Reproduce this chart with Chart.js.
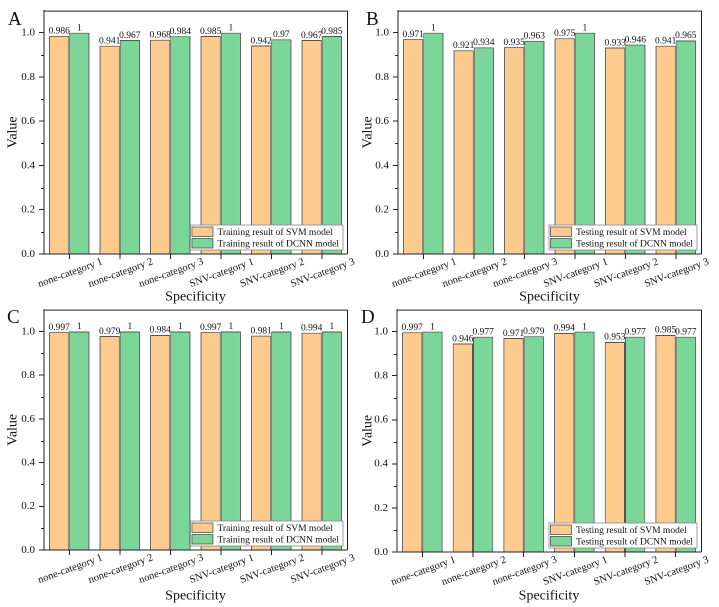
<!DOCTYPE html>
<html>
<head>
<meta charset="utf-8">
<script src="https://cdn.jsdelivr.net/npm/chart.js@4.4.0/dist/chart.umd.min.js"></script>
<style>
  html, body { margin: 0; padding: 0; background: #fff; overflow: hidden; }
  #stage { position: absolute; left: 0; top: 0; width: 719px; height: 607px; }
  .panel { position: absolute; }
  .letter { position: absolute; font-family: 'Liberation Serif', 'Times New Roman', serif; font-size: 19px; line-height: 19px; color: #111; }
</style>
</head>
<body>
<div id="stage"></div>
<script>
// Data
const categories = ['none-category 1', 'none-category 2', 'none-category 3', 'SNV-category 1', 'SNV-category 2', 'SNV-category 3'];
const yTicks = [0, 0.2, 0.4, 0.6, 0.8, 1.0];
const yMinorTicks = [0.1, 0.3, 0.5, 0.7, 0.9];

const svmA  = [0.986, 0.941, 0.968, 0.985, 0.942, 0.967];
const dcnnA = [1, 0.967, 0.984, 1, 0.97, 0.985];
const svmB  = [0.971, 0.921, 0.935, 0.975, 0.933, 0.941];
const dcnnB = [1, 0.934, 0.963, 1, 0.946, 0.965];
const svmC  = [0.997, 0.979, 0.984, 0.997, 0.981, 0.994];
const dcnnC = [1, 1, 1, 1, 1, 1];
const svmD  = [0.997, 0.946, 0.971, 0.994, 0.953, 0.985];
const dcnnD = [1, 0.977, 0.979, 1, 0.977, 0.977];

const trainingNames = ['Training result of SVM model', 'Training result of DCNN model'];
const testingNames  = ['Testing result of SVM model', 'Testing result of DCNN model'];

// Styles
const FONT = "'Liberation Serif', 'Times New Roman', serif";
const svmColor = '#FECB8F';
const dcnnColor = '#7BD69A';
const edgeColor = '#555555';
const axisColor = '#222222';
const textColor = '#111111';
const titleSize = 14;

// panel layout in page pixels
const panels = [
  { id: 'A', svm: svmA, dcnn: dcnnA, names: trainingNames, x0: 0,   y0: 0,   w: 358, h: 308, area: { l: 44,  r: 347, t: 10,  b: 254 }, valueX: 13 },
  { id: 'B', svm: svmB, dcnn: dcnnB, names: testingNames,  x0: 358, y0: 0,   w: 361, h: 308, area: { l: 398, r: 701, t: 10,  b: 254 }, valueX: 368 },
  { id: 'C', svm: svmC, dcnn: dcnnC, names: trainingNames, x0: 0,   y0: 299, w: 358, h: 308, area: { l: 44,  r: 347, t: 305, b: 550 }, valueX: 13 },
  { id: 'D', svm: svmD, dcnn: dcnnD, names: testingNames,  x0: 358, y0: 299, w: 361, h: 308, area: { l: 397, r: 701, t: 305, b: 552 }, valueX: 368 }
];
const letterPos = { A: [8, 9], B: [366, 9], C: [7, 307], D: [361, 307] };

// frame, minor ticks and rotated category labels
const decorPlugin = {
  id: 'decor',
  afterDraw(chart) {
    const { ctx, chartArea: a, scales: { x, y } } = chart;
    ctx.save();
    ctx.strokeStyle = axisColor;
    ctx.lineWidth = 1;
    ctx.beginPath();
    ctx.moveTo(a.left, a.top + 0.5);
    ctx.lineTo(a.right + 0.5, a.top + 0.5);
    ctx.lineTo(a.right + 0.5, a.bottom);
    ctx.stroke();
    // minor ticks on y
    ctx.beginPath();
    yMinorTicks.forEach(v => {
      const py = Math.round(y.getPixelForValue(v)) + 0.5;
      ctx.moveTo(a.left, py);
      ctx.lineTo(a.left - 3, py);
    });
    ctx.stroke();
    // x labels, centred on tick, rotated
    ctx.fillStyle = textColor;
    ctx.font = '10.5px ' + FONT;
    ctx.textAlign = 'center';
    ctx.textBaseline = 'middle';
    chart.data.labels.forEach((lab, i) => {
      const px = x.getPixelForTick(i);
      ctx.save();
      ctx.translate(px + 1, a.bottom + 19);
      ctx.rotate(-20 * Math.PI / 180);
      ctx.fillText(lab, 0, 0);
      ctx.restore();
    });
    ctx.restore();
  }
};

// value labels above bars
const valuePlugin = {
  id: 'values',
  afterDatasetsDraw(chart) {
    const { ctx } = chart;
    ctx.save();
    ctx.fillStyle = textColor;
    ctx.font = '9.5px ' + FONT;
    ctx.textAlign = 'center';
    ctx.textBaseline = 'bottom';
    chart.data.datasets.forEach((ds, di) => {
      chart.getDatasetMeta(di).data.forEach((bar, i) => {
        ctx.fillText(String(ds.data[i]), bar.x, bar.y);
      });
    });
    ctx.restore();
  }
};

// legend box in lower-right corner of plot
const boxLegendPlugin = {
  id: 'boxLegend',
  afterDraw(chart) {
    const { ctx, chartArea: a } = chart;
    const ds = chart.data.datasets;
    ctx.save();
    ctx.font = '9.5px ' + FONT;
    const tw = Math.max(...ds.map(d => ctx.measureText(d.label).width));
    const swW = 21, swH = 9.5, rowH = 11.5;
    const boxW = 2 + swW + 4 + tw + 4;
    const boxH = rowH * ds.length + 2;
    const bx = a.right - 4 - boxW;
    const by = a.bottom - 4 - boxH;
    ctx.fillStyle = '#fff';
    ctx.fillRect(bx, by, boxW, boxH);
    ctx.strokeStyle = '#888';
    ctx.lineWidth = 0.8;
    ctx.strokeRect(bx, by, boxW, boxH);
    ds.forEach((d, i) => {
      const ry = by + 1 + i * rowH;
      ctx.fillStyle = d.backgroundColor;
      ctx.fillRect(bx + 1.5, ry + 1, swW, swH);
      ctx.strokeStyle = edgeColor;
      ctx.lineWidth = 0.8;
      ctx.strokeRect(bx + 1.5, ry + 1, swW, swH);
      ctx.fillStyle = textColor;
      ctx.textAlign = 'left';
      ctx.textBaseline = 'middle';
      ctx.fillText(d.label, bx + 2 + swW + 4, ry + rowH / 2 + 0.5);
    });
    ctx.restore();
  }
};

const stage = document.getElementById('stage');

panels.forEach(p => {
  const div = document.createElement('div');
  div.className = 'panel';
  div.style.left = p.x0 + 'px';
  div.style.top = p.y0 + 'px';
  div.style.width = p.w + 'px';
  div.style.height = p.h + 'px';
  const canvas = document.createElement('canvas');
  div.appendChild(canvas);
  stage.appendChild(div);

  const yWidth = p.area.l - p.x0;
  const xHeight = p.y0 + p.h - p.area.b;
  const valuePad = Math.max(0, (p.valueX - p.x0) - titleSize * 1.2 / 2);

  new Chart(canvas, {
    type: 'bar',
    data: {
      labels: categories,
      datasets: [
        { label: p.names[0], data: p.svm, backgroundColor: svmColor, borderColor: edgeColor, borderWidth: 1, barPercentage: 1, categoryPercentage: 0.8 },
        { label: p.names[1], data: p.dcnn, backgroundColor: dcnnColor, borderColor: edgeColor, borderWidth: 1, barPercentage: 1, categoryPercentage: 0.8 }
      ]
    },
    options: {
      responsive: true,
      maintainAspectRatio: false,
      animation: false,
      devicePixelRatio: 2,
      layout: { padding: { left: 0, top: p.area.t - p.y0, right: p.x0 + p.w - p.area.r, bottom: 0 } },
      plugins: { legend: { display: false }, tooltip: { enabled: false } },
      scales: {
        x: {
          grid: { display: true, drawOnChartArea: false, offset: false, tickLength: 5, tickColor: axisColor, tickWidth: 1 },
          border: { display: true, color: axisColor, width: 1 },
          ticks: { display: false },
          title: { display: true, text: 'Specificity', color: textColor, font: { family: FONT, size: titleSize }, padding: { top: 0, bottom: 3 } },
          afterFit: s => { s.height = xHeight; }
        },
        y: {
          min: 0,
          max: 1.1,
          afterBuildTicks: s => { s.ticks = yTicks.map(v => ({ value: v })); },
          grid: { display: true, drawOnChartArea: false, tickLength: 5, tickColor: axisColor, tickWidth: 1 },
          border: { display: true, color: axisColor, width: 1 },
          ticks: { callback: v => Number(v).toFixed(1), color: textColor, font: { family: FONT, size: 11 }, padding: 4 },
          title: { display: true, text: 'Value', color: textColor, font: { family: FONT, size: titleSize }, padding: { top: valuePad, bottom: 0 } },
          afterFit: s => { s.width = yWidth; }
        }
      }
    },
    plugins: [valuePlugin, decorPlugin, boxLegendPlugin]
  });

  const letter = document.createElement('div');
  letter.className = 'letter';
  letter.textContent = p.id;
  letter.style.left = letterPos[p.id][0] + 'px';
  letter.style.top = letterPos[p.id][1] + 'px';
  stage.appendChild(letter);
});
</script>
</body>
</html>
